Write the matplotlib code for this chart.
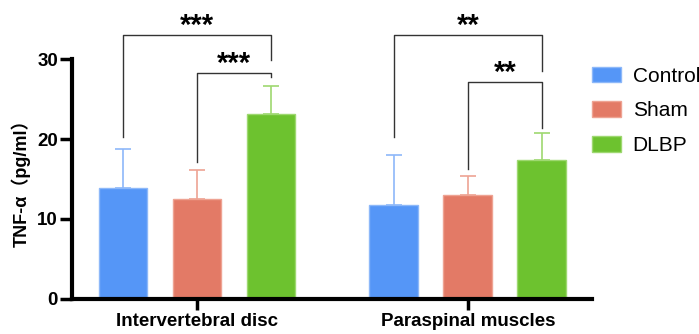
import numpy as np
import matplotlib.pyplot as plt
from matplotlib.patches import Patch

# datos
grupos = ['Intervertebral disc', 'Paraspinal muscles']
series = ['Control', 'Sham', 'DLBP']
medias = {
    'Control': [13.9, 11.8],
    'Sham': [12.5, 13.0],
    'DLBP': [23.1, 17.4],
}
errores = {
    'Control': [4.8, 6.2],
    'Sham': [3.6, 2.4],
    'DLBP': [3.5, 3.4],
}
# (grupo, serie_a, serie_b, altura, pie_a, pie_b, texto)
brackets = [
    (0, 0, 2, 33.0, 20.3, 29.9, '***'),
    (0, 1, 2, 28.3, 17.1, 27.8, '***'),
    (1, 0, 2, 33.0, 20.3, 28.5, '**'),
    (1, 1, 2, 27.1, 16.3, 21.4, '**'),
]

colores = ['#5596F7', '#E37A66', '#6DC22F']
bordes = ['#8DB8F9', '#EEA393', '#9ED870']

fuente = ['Liberation Sans', 'Noto Sans CJK SC']
plt.rcParams['font.family'] = fuente

fig = plt.figure(figsize=(6.99, 3.34), dpi=100)
ax = fig.add_axes([0.103, 0.105, 0.744, 0.718])

sep = 3.66
centros = np.array([0, sep])
for i, s in enumerate(series):
    x = centros + i
    ax.bar(x, medias[s], width=0.66, color=colores[i], edgecolor=bordes[i], linewidth=1, zorder=2)
    ax.errorbar(x, medias[s], yerr=[np.zeros(2), errores[s]], fmt='none',
                ecolor=bordes[i], elinewidth=1.2, capsize=6, capthick=1.2, zorder=3)

for g, a, b, h, pa, pb, txt in brackets:
    xa = centros[g] + a
    xb = centros[g] + b
    ax.plot([xa, xa, xb, xb], [pa, h, h, pb], color='#333333', lw=1, clip_on=False, zorder=4)
    ax.text((xa + xb) / 2, h - 0.6, txt, ha='center', va='bottom', fontsize=21,
            fontweight='bold', clip_on=False)

ax.set_xlim(-0.69, 6.34)
ax.set_ylim(0, 30)
ax.set_yticks([0, 10, 20, 30])
ax.set_xticks(centros + 1)
ax.set_xticklabels(grupos, fontsize=13.5, fontweight='bold')
for t in ax.get_yticklabels():
    t.set_fontweight('bold')
    t.set_fontsize(13.5)
ax.tick_params(axis='y', length=9, width=2.5, pad=1)
ax.tick_params(axis='x', length=8, width=2.5, pad=2)
ax.spines['top'].set_visible(False)
ax.spines['right'].set_visible(False)
ax.spines['left'].set_linewidth(3)
ax.spines['bottom'].set_linewidth(3)
ax.set_ylabel('TNF-α（pg/ml）', fontsize=13, fontweight='bold', labelpad=5)

manejadores = [Patch(facecolor=colores[i], edgecolor=bordes[i], label=s) for i, s in enumerate(series)]
fig.legend(handles=manejadores, loc='upper left', bbox_to_anchor=(0.847, 0.80), frameon=False,
           fontsize=15, handlelength=1.4, handleheight=0.77, labelspacing=0.75, handletextpad=0.55,
           borderpad=0, borderaxespad=0)

fig.savefig('out.png', dpi=100)
